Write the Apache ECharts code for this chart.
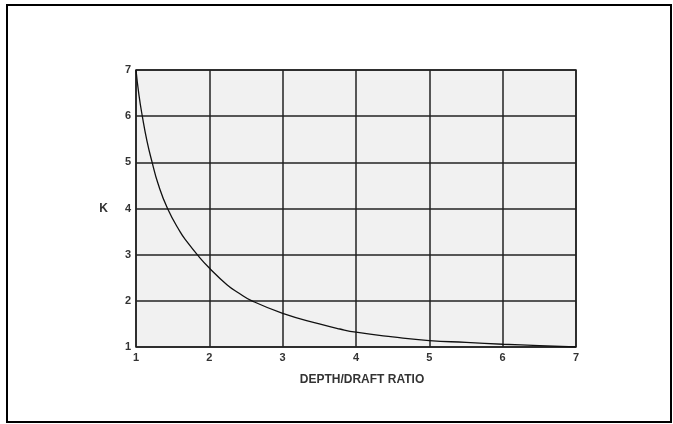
<!DOCTYPE html>
<html>
<head>
<meta charset="utf-8">
<script src="https://cdn.jsdelivr.net/npm/echarts@6/dist/echarts.min.js"></script>
<style>
html,body{margin:0;padding:0;background:#fff;overflow:hidden;}
#chart{width:673px;height:424px;}
</style>
</head>
<body>
<div id="chart"></div>
<script>
var ratio = [1.0, 1.04, 1.086, 1.15, 1.22, 1.3, 1.43, 1.6, 1.7, 1.835, 2.0, 2.24, 2.4, 2.58, 3.0, 3.5, 3.78, 4.0, 4.5, 5.0, 5.5, 6.0, 6.5, 7.0];
var kValues = [7.0, 6.46, 6.0, 5.46, 5.0, 4.54, 4.0, 3.5, 3.27, 3.0, 2.71, 2.35, 2.17, 2.0, 1.73, 1.5, 1.39, 1.32, 1.22, 1.14, 1.1, 1.06, 1.03, 1.0];
var xTitle = 'DEPTH/DRAFT RATIO';
var yTitle = 'K';

var chart = echarts.init(document.getElementById('chart'));
var pts = ratio.map(function (x, i) { return [x, kValues[i]]; });
var labelStyle = { color: '#333', fontFamily: 'Liberation Sans, Arial, sans-serif', fontWeight: 'bold', fontSize: 11 };
var gridLine = { show: true, lineStyle: { color: '#222', width: 1.5 } };

chart.setOption({
  animation: false,
  backgroundColor: '#fff',
  graphic: [{
    type: 'rect', z: 100,
    shape: { x: 7, y: 5, width: 664, height: 417 },
    style: { fill: 'none', stroke: '#000', lineWidth: 2 }
  }],
  grid: { left: 136, right: 97, top: 70, bottom: 77, show: true, backgroundColor: '#f1f1f1', borderColor: '#222', borderWidth: 1.5 },
  xAxis: {
    type: 'value', min: 1, max: 7, interval: 1,
    name: xTitle, nameLocation: 'middle', nameGap: 27,
    nameTextStyle: Object.assign({}, labelStyle, { fontSize: 12, padding: [0, 0, 0, 12] }),
    axisLine: { show: false }, axisTick: { show: false },
    axisLabel: Object.assign({ margin: 5 }, labelStyle),
    splitLine: gridLine
  },
  yAxis: {
    type: 'value', min: 1, max: 7, interval: 1,
    name: yTitle, nameLocation: 'middle', nameGap: 28, nameRotate: 0,
    nameTextStyle: Object.assign({}, labelStyle, { fontSize: 12 }),
    axisLine: { show: false }, axisTick: { show: false },
    axisLabel: Object.assign({ margin: 5 }, labelStyle),
    splitLine: gridLine
  },
  series: [{
    type: 'line', data: pts, smooth: 0.5, showSymbol: false,
    lineStyle: { color: '#111', width: 1.3 }
  }]
});
</script>
</body>
</html>
